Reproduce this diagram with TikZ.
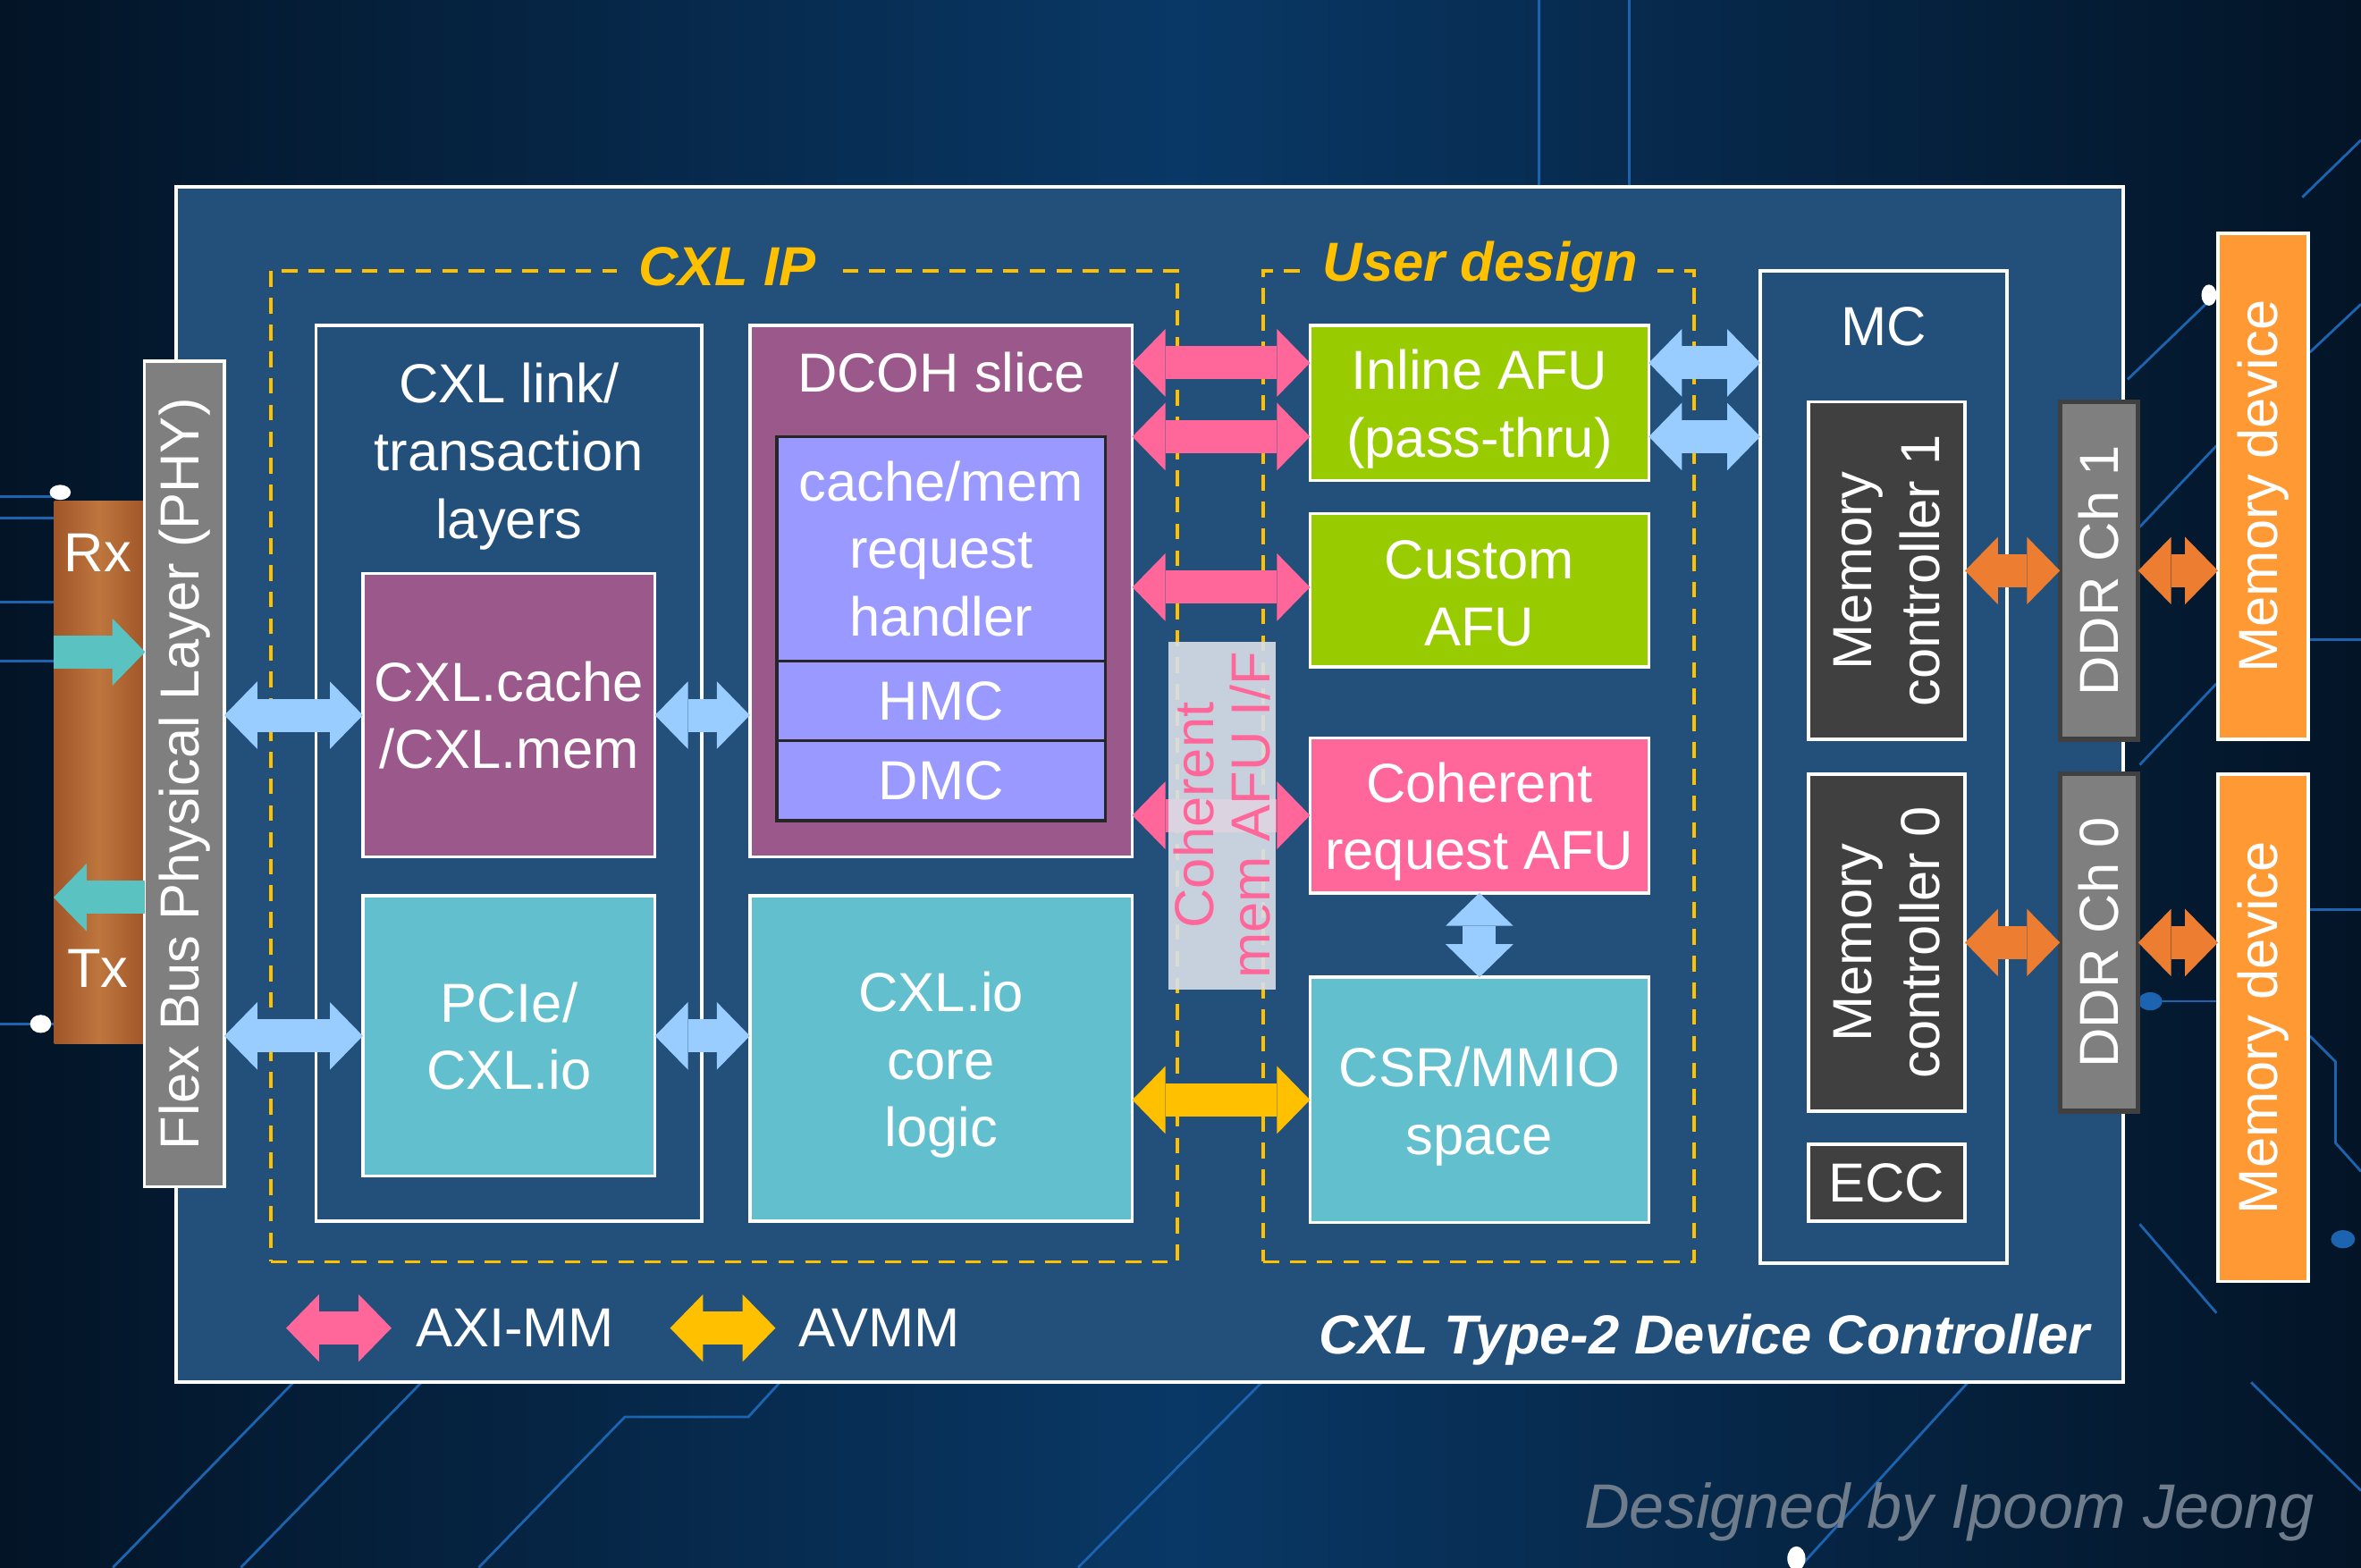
\documentclass[tikz,border=0pt]{standalone}
\usepackage{fontspec}
\setmainfont{Liberation Sans}
\usetikzlibrary{arrows.meta,fit,calc}
\definecolor{bgdark}{RGB}{3,20,38}
\definecolor{bgmid}{RGB}{9,56,102}
\definecolor{mainblue}{RGB}{35,80,122}
\definecolor{circ}{RGB}{28,100,175}
\definecolor{purp}{RGB}{155,89,139}
\definecolor{lav}{RGB}{153,153,255}
\definecolor{tealbox}{RGB}{98,191,206}
\definecolor{grn}{RGB}{153,204,0}
\definecolor{pnk}{RGB}{255,102,153}
\definecolor{lblue}{RGB}{153,204,255}
\definecolor{ylw}{RGB}{255,192,0}
\definecolor{orarrow}{RGB}{237,125,49}
\definecolor{orbox}{RGB}{255,153,51}
\definecolor{dgray}{RGB}{64,64,64}
\definecolor{mgray}{RGB}{127,127,127}
\definecolor{dkline}{RGB}{38,38,38}
\definecolor{brn}{RGB}{160,86,40}
\definecolor{brnl}{RGB}{190,118,62}
\definecolor{tealarr}{RGB}{91,194,194}
\definecolor{ifgray}{RGB}{216,224,232}
\definecolor{sig}{RGB}{110,124,140}
\begin{document}
\begin{tikzpicture}[x=0.016843cm, y=-0.016843cm,
  font=\fontsize{17.5}{21.5}\selectfont,
  blk/.style={inner sep=0pt, outer sep=0pt, draw=white, line width=1pt},
  txt/.style={inner sep=0pt, outer sep=0pt, text=white, align=center},
  dtxt/.style={txt, yshift=-2pt},
  dashbox/.style={inner sep=0pt, draw=ylw, line width=1.1pt, dash pattern=on 5pt off 3.5pt},
  dlabel/.style={fill=mainblue, inner xsep=7pt, inner ysep=2pt, text=ylw, font=\bfseries\itshape\fontsize{17.5}{21}\selectfont},
  dbl/.style={draw=#1, line width=10.5pt, {Triangle[width=21.5pt,length=10.5pt,line width=0pt]}-{Triangle[width=21.5pt,length=10.5pt,line width=0pt]}},
  sgl/.style={draw=#1, line width=10.5pt, -{Triangle[width=21.5pt,length=10.5pt,line width=0pt]}},
  circline/.style={draw=circ, line width=0.8pt},
]
\useasboundingbox (0,0) rectangle (1568,1041);
% background
\fill[left color=bgdark, right color=bgdark, middle color=bgmid] (0,0) rectangle (1568,1041);
% circuit decoration
\draw[circline] (1022,0) -- (1022,124);
\draw[circline] (1082,0) -- (1082,124);
\draw[circline] (1568,93) -- (1529,131);
\draw[circline] (0,330) -- (36,330);
\draw[circline] (0,344) -- (36,344);
\draw[circline] (0,400) -- (36,400);
\draw[circline] (0,439) -- (36,439);
\draw[circline] (0,680) -- (36,680);
\draw[circline] (195,918) -- (75,1041);
\draw[circline] (280,918) -- (160,1041);
\draw[circline] (518,918) -- (497,941) -- (415,941) -- (318,1041);
\draw[circline] (838,918) -- (716,1041);
\draw[circline] (1307,918) -- (1195,1041);
\draw[circline] (1495,918) -- (1568,990);
\draw[circline] (1469,198) -- (1413,252);
\draw[circline] (1472,296) -- (1421,350);
\draw[circline] (1472,454) -- (1421,508);
\draw[circline] (1534,234) -- (1568,202);
\draw[circline] (1534,425) -- (1568,425);
\draw[circline] (1534,604) -- (1568,604);
\draw[circline] (1534,688) -- (1551,705) -- (1551,759) -- (1568,778);
\draw[circline] (1428,665) -- (1473,665);
\draw[circline] (1421,813) -- (1472,872);
\fill[white] (40,327) ellipse (7 and 5);
\fill[white] (27,680) ellipse (7 and 6);
\fill[white] (1467,196) ellipse (5 and 7);
\fill[white] (1193,1035) ellipse (6 and 8);
\fill[circ] (1428,665) ellipse (8 and 6);
\fill[circ] (1556,823) ellipse (8 and 6);
% main controller box
\node[fit={(117,124) (1410,918)}, inner sep=0pt, draw=white, line width=1.2pt, fill=mainblue] (main) {};
% dashed regions
\node[dashbox, fit={(180,180) (782,838)}] (cxlip) {};
\node[dashbox, fit={(839,180) (1125,838)}] (user) {};
\node[dlabel] (cxliplbl) at (483,177) {CXL IP};
\node[dlabel, inner xsep=5pt] (userlbl) at (983,177) {User design};
% CXL IP blocks
\node[blk, fit={(210,216) (466,811)}] (link) {};
\node[dtxt] (linktxt) at (338,299) {CXL link/\\transaction\\layers};
\node[blk, fill=purp, fit={(241,381) (435,569)}] (cache) {};
\node[txt] (cachetxt) at (cache.center) {CXL.cache\\/CXL.mem};
\node[blk, fill=tealbox, fit={(241,595) (435,781)}] (pcie) {};
\node[txt] (pcietxt) at (pcie.center) {PCIe/\\CXL.io};
\node[blk, fill=purp, fit={(498,216) (752,569)}] (dcoh) {};
\node[txt] (dcohtxt) at (625,247) {DCOH slice};
\node[blk, draw=dkline, fill=lav, fit={(516,290) (734,439)}] (crh) {};
\node[txt] (crhtxt) at (crh.center) {cache/mem\\request\\handler};
\node[blk, draw=dkline, fill=lav, fit={(516,439) (734,492)}] (hmc) {};
\node[txt] (hmctxt) at (hmc.center) {HMC};
\node[blk, draw=dkline, fill=lav, fit={(516,492) (734,545)}] (dmc) {};
\node[txt] (dmctxt) at (dmc.center) {DMC};
\node[blk, fill=tealbox, fit={(498,595) (752,811)}] (iocore) {};
\node[dtxt] (iocoretxt) at (iocore.center) {CXL.io\\core\\logic};
% user design blocks
\node[blk, fill=grn, fit={(870,216) (1095,319)}] (inline) {};
\node[dtxt] (inlinetxt) at (inline.center) {Inline AFU\\(pass-thru)};
\node[blk, fill=grn, fit={(870,341) (1095,443)}] (custom) {};
\node[txt, yshift=-1pt] (customtxt) at (custom.center) {Custom\\AFU};
\node[blk, fill=pnk, fit={(870,490) (1095,593)}] (cohafu) {};
\node[dtxt] (cohafutxt) at (cohafu.center) {Coherent\\request AFU};
\node[blk, fill=tealbox, fit={(870,649) (1095,812)}] (csr) {};
\node[dtxt] (csrtxt) at (csr.center) {CSR/MMIO\\space};
% MC
\node[blk, fit={(1169,180) (1333,839)}] (mc) {};
\node[txt] (mctxt) at (1251,217) {MC};
\node[blk, fill=dgray, fit={(1201,267) (1305,491)}] (mc1) {};
\node[txt, rotate=90] (mc1txt) at (mc1.center) {Memory\\controller 1};
\node[blk, fill=dgray, fit={(1201,514) (1305,738)}] (mc0) {};
\node[txt, rotate=90] (mc0txt) at (mc0.center) {Memory\\controller 0};
\node[blk, fill=dgray, fit={(1201,760) (1305,811)}] (ecc) {};
\node[txt] (ecctxt) at (ecc.center) {ECC};
% DDR channels
\node[blk, draw=dgray, line width=1.5pt, fill=mgray, fit={(1368,267) (1420,491)}] (ddr1) {};
\node[txt, rotate=90] (ddr1txt) at (ddr1.center) {DDR Ch 1};
\node[blk, draw=dgray, line width=1.5pt, fill=mgray, fit={(1368,514) (1420,738)}] (ddr0) {};
\node[txt, rotate=90] (ddr0txt) at (ddr0.center) {DDR Ch 0};
% memory devices
\node[blk, fill=orbox, fit={(1473,155) (1533,491)}] (md1) {};
\node[txt, rotate=90] (md1txt) at (md1.center) {Memory device};
\node[blk, fill=orbox, fit={(1473,514) (1533,851)}] (md0) {};
\node[txt, rotate=90] (md0txt) at (md0.center) {Memory device};
% PHY and Rx/Tx
\node[fit={(36,333) (96,693)}, inner sep=0pt, left color=brn, right color=brn, middle color=brnl] (rxtx) {};
\node[txt] (rxtxt) at (65,367) {Rx};
\node[txt] (txtxt) at (65,643) {Tx};
\node[blk, fill=mgray, fit={(96,240) (149,788)}] (phy) {};
\node[txt, rotate=90] (phytxt) at (phy.center) {Flex Bus Physical Layer (PHY)};
\draw[sgl=tealarr] (rxtx.west |- 0,433) -- (rxtx.east |- 0,433);
\draw[sgl=tealarr] (rxtx.east |- 0,596) -- (rxtx.west |- 0,596);
% light blue arrows
\draw[dbl=lblue] (phy.east |- cache.center) -- (cache.west);
\draw[dbl=lblue] (phy.east |- pcie.center) -- (pcie.west);
\draw[dbl=lblue] (cache.east) -- (dcoh.west |- cache.center);
\draw[dbl=lblue] (pcie.east) -- (iocore.west |- pcie.center);
\draw[dbl=lblue] (inline.east |- 0,241) -- (mc.west |- 0,241);
\draw[dbl=lblue] (inline.east |- 0,290) -- (mc.west |- 0,290);
\draw[dbl=lblue] (cohafu.south) -- (csr.north);
% pink / yellow arrows
\draw[dbl=pnk] (dcoh.east |- 0,241) -- (inline.west |- 0,241);
\draw[dbl=pnk] (dcoh.east |- 0,290) -- (inline.west |- 0,290);
\draw[dbl=pnk] (dcoh.east |- 0,390) -- (custom.west |- 0,390);
\draw[dbl=pnk] (dcoh.east |- cohafu.center) -- (cohafu.west);
\draw[dbl=ylw] (iocore.east |- csr.center) -- (csr.west);
% coherent mem AFU interface
\node[fit={(776,426) (847,657)}, inner sep=0pt, fill=ifgray, fill opacity=0.9] (cohif) {};
\node[txt, rotate=90, text=pnk, font=\fontsize{17.5}{18}\selectfont] (cohiftxt) at (cohif.center) {Coherent\\mem AFU I/F};
% orange arrows
\draw[dbl=orarrow] (mc1.east) -- (ddr1.west);
\draw[dbl=orarrow] (ddr1.east) -- (md1.west |- ddr1.center);
\draw[dbl=orarrow] (mc0.east) -- (ddr0.west);
\draw[dbl=orarrow] (ddr0.east) -- (md0.west |- ddr0.center);
% legend
\coordinate (lga1) at (190,882);
\coordinate (lga2) at (260,882);
\coordinate (lgb1) at (445,882);
\coordinate (lgb2) at (515,882);
\draw[dbl=pnk] (lga1) -- (lga2);
\draw[dbl=ylw] (lgb1) -- (lgb2);
\node[txt] (axitxt) at (342,882) {AXI-MM};
\node[txt] (avmmtxt) at (584,882) {AVMM};
\node[txt, anchor=east, font=\bfseries\itshape\fontsize{17.5}{21}\selectfont] (title) at (1388,890) {CXL Type-2 Device Controller};
\node[txt, anchor=east, text=sig, font=\itshape\fontsize{20}{24}\selectfont] (sign) at (1537,1004) {Designed by Ipoom Jeong};
\end{tikzpicture}
\end{document}
